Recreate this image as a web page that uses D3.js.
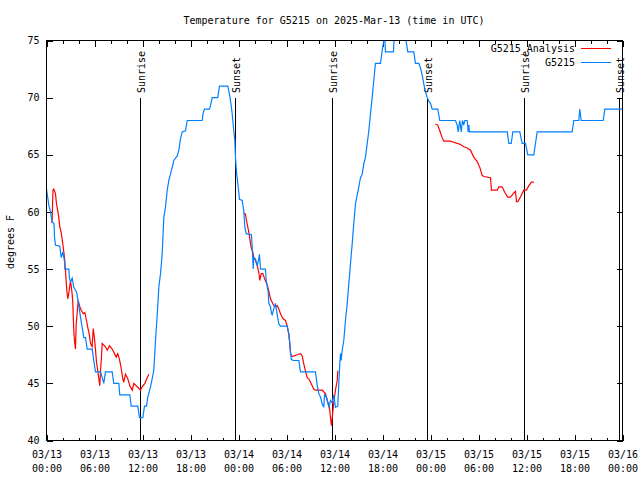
<!DOCTYPE html>
<html><head><meta charset="utf-8">
<script src="https://cdn.jsdelivr.net/npm/d3@7"></script>
<style>
body{margin:0;background:#fff}
text{font-family:"DejaVu Sans Mono",monospace;font-size:10px;fill:#000}
</style>
</head><body>
<svg id="c" width="640" height="480"></svg>
<script>
// ---------- DATA ----------
const titleText = "Temperature for G5215 on 2025-Mar-13 (time in UTC)";
const yLabelText = "degrees F";
const startUTC = Date.UTC(2025, 2, 13, 0, 0);
const spanHours = 72;
const yTickValues = [40, 45, 50, 55, 60, 65, 70, 75];
const seriesNames = ["G5215_Analysis", "G5215"];
const seriesColors = ["#ff0000", "#0080ff"];

// observed (hours since 03/13 00:00 UTC, deg F)
const obsHours = [0,0.29,0.5,0.71,0.94,1.0,1.12,1.66,1.75,1.84,2.04,2.25,2.31,2.79,2.87,3.0,3.21,3.41,3.75,3.91,4.04,4.25,4.46,4.66,4.87,5.09,5.71,5.91,6.12,6.75,6.96,7.16,7.37,8.21,8.41,9.04,9.16,10.41,10.59,11.41,11.62,12.04,12.25,12.5,12.66,13,13.41,13.62,13.84,14.04,14.25,14.46,14.66,14.87,15.09,15.29,15.5,15.71,15.91,16.34,16.54,16.75,16.96,17.37,17.59,19.46,19.59,19.75,20.37,20.5,20.71,21.41,21.62,22.66,22.87,23.09,23.21,23.41,23.54,23.62,23.75,23.91,24.04,24.12,24.46,24.66,24.79,24.96,25.62,25.71,25.84,25.91,26.12,26.34,26.54,26.62,26.75,27.37,27.46,27.71,27.79,28,28.12,28.21,28.41,28.62,28.84,29.04,29.25,30.09,30.29,30.41,30.59,30.84,31.54,31.75,33.62,33.84,34.04,34.25,34.46,34.66,34.75,35,35.29,35.5,35.71,35.91,36.12,36.41,36.54,36.66,36.75,36.84,36.96,37.16,37.37,37.59,37.79,38,38.21,38.41,38.62,39.04,39.25,39.46,39.66,39.87,40.09,40.29,40.5,40.71,40.91,41.12,41.75,41.96,42.16,42.25,42.37,43.37,43.5,43.69,43.81,44,44.12,44.75,44.94,45.16,45.91,46.12,46.54,46.75,46.96,47.16,47.37,47.59,47.79,48,48.21,48.91,49.16,51.12,51.34,51.46,51.66,51.84,52,52.15,52.29,52.59,52.71,52.79,52.87,57.59,57.79,58.09,58.29,59.16,59.46,59.87,60.16,60.91,61.12,61.34,65.71,65.91,66.54,66.66,66.84,69.59,69.79,71.96];
const obsTemps = [62,60.6,60,59.1,59,57.8,57.1,57,56.5,56,56.5,55.7,55,55,54.2,53.9,54.2,53.4,53,52.4,51.8,50.8,49.9,49,49,48,48,47,46,46,45.5,45,46,46,45,45,44,44,43,43,42,42,43,43,43.8,44.7,46.1,48.7,51,53.4,54.6,56.3,59.5,60.4,61.9,62.75,63.3,63.9,64.5,64.9,65.4,66.4,67,67.1,68,68,68.7,69,69,69.3,70,70,71,71,70.3,69.3,68.6,67.1,66.25,64.8,63.5,62.5,61.7,61.1,61,60.1,58.7,58.1,58,56.9,55,56,55.9,55.3,55.9,56.3,55,55,54,53,52,51.7,51.1,51,51.5,52,51,50.2,50,50,49.3,48.5,47.1,47,47,46,46,44.8,44.1,43.8,43.2,42.9,44,43.8,42.9,43.5,43.3,44,42.9,43,45,46.7,47.6,47,47.9,48.75,50.5,52,53.7,55.5,57.2,59,60.7,62.2,63,63.3,64.2,64.8,66,67.1,68.6,70,71.5,73,73,74.1,75,76,74,74,76,75,76,75,76,76,75,74,74,73,73,72.6,72,71.2,70.5,70,69.7,69.5,69,69,68,68,67.6,67,68,67,68,67.6,68,68,67,67.6,67,67,66,66,67,67,66,66,65,65,66,67,67,68,68,69,68,68,69,69];

// analysis (null = gap)
const anaHours = [0.69,0.81,0.91,1.12,1.25,1.41,1.54,1.66,1.84,1.96,2.09,2.25,2.37,2.5,2.59,2.66,2.81,3.0,3.21,3.29,3.41,3.5,3.62,3.71,3.84,3.96,4.16,4.34,4.59,4.79,5.0,5.16,5.37,5.5,5.71,5.84,6.0,6.12,6.25,6.41,6.54,6.66,6.75,6.87,6.96,7.37,7.59,7.87,8.21,8.5,8.71,8.91,9.12,9.34,9.54,9.66,9.87,10.16,10.41,10.71,10.91,11.34,11.75,11.96,12.29,12.59,12.79,
  18,
  24.66,24.87,25,25.16,25.37,25.5,25.62,25.79,25.91,26.12,26.34,26.54,26.66,26.84,27.04,27.29,27.59,27.79,28,28.21,28.41,28.62,28.84,29.04,29.25,29.46,29.66,29.87,30.09,30.29,30.41,30.5,30.71,31.34,31.75,31.96,32.16,32.37,32.59,32.79,33,33.41,33.62,34.46,34.87,35.09,35.29,35.41,35.5,35.62,35.71,35.84,36,36.12,36.34,36.41,
  42,
  48.62,48.91,49.16,49.46,49.66,50.5,50.91,51.34,51.75,52.16,52.59,53,53.41,53.84,54.16,54.46,54.66,55.5,55.62,56.34,56.54,56.96,57.29,57.66,58,58.34,58.62,58.75,58.91,59.25,59.66,60,60.29,60.62,60.91];
const anaTemps = [59,61.9,62,61.6,60.7,60.1,59.5,58.7,58.2,57.6,56.9,56,54.9,53.5,52.8,52.4,53,54,52.8,52,49.6,48.75,48,50.2,51.2,52.25,51.7,51.4,51.1,51.2,50.5,49.9,49.2,48.5,48.2,49.8,48.9,48,46.85,46.1,45.4,44.8,46.1,47.3,48.5,48.2,47.9,48.3,48,47.6,47.3,47.6,47.1,46.3,45.4,45.1,45.8,45.4,44.8,44.4,45,44.7,44.4,44.7,45,45.5,45.8,
  null,
  59.9,59.8,59.25,58.7,57.9,57.2,56.8,56.5,56,55.75,55.3,54.7,54,54.6,54.6,54.1,53.6,53.1,52.4,52.1,51.8,51.7,51.8,51.5,51.1,50.8,50.6,50.5,50,49.3,48.5,47.6,47.35,47.5,47.6,47.4,46.7,46.1,45.5,45.4,45.1,44.5,44.4,44.4,44.1,43.5,43.1,42.6,42,41.3,41.9,42.9,43.8,44.4,45.25,46.1,
  null,
  67.7,67.6,67.1,66.5,66.2,66.2,66.1,66,65.9,65.7,65.6,65.4,64.8,64.4,63.9,63.2,63.1,63,61.9,61.9,62.2,62.2,61.7,61.3,61.3,61.6,61.8,60.9,60.9,61.3,61.9,61.9,62.3,62.6,62.6];

// sun events (hours since start)
const sunHours = [11.72, 23.6, 35.72, 47.6, 59.65, 71.55];
const sunLabels = ["Sunrise", "Sunset", "Sunrise", "Sunset", "Sunrise", "Sunset"];

// ---------- DRAW ----------
const L = 46.5, R = 622.5, T = 40.5, B = 440.5;
const hr = 3600 * 1000;
const toDate = h => new Date(startUTC + h * hr);
const svg = d3.select("#c");
svg.append("rect").attr("width", 640).attr("height", 480).attr("fill", "#fff");

const x = d3.scaleUtc().domain([toDate(0), toDate(spanHours)]).range([L, R]);
const y = d3.scaleLinear().domain([40, 75]).range([B, T]);

svg.append("defs").append("clipPath").attr("id", "clip")
  .append("rect").attr("x", L).attr("y", T).attr("width", R - L).attr("height", B - T);

// title
svg.append("text").attr("x", 334).attr("y", 24).attr("text-anchor", "middle").text(titleText);
// y label
svg.append("text").attr("transform", "translate(13.5,242) rotate(-90)").attr("text-anchor", "middle").text(yLabelText);

const fmtD = d3.utcFormat("%m/%d"), fmtT = d3.utcFormat("%H:%M");

function styleAxis(g) {
  g.select(".domain").remove();
  g.selectAll("line").attr("stroke", "#000").attr("shape-rendering", "crispEdges");
}
// bottom major
const gxb = svg.append("g").attr("transform", `translate(0,${B})`)
  .call(d3.axisBottom(x).ticks(d3.utcHour.every(6)).tickSize(-6).tickSizeOuter(0));
styleAxis(gxb);
gxb.selectAll("text").each(function(d) {
  const t = d3.select(this);
  t.text(null).attr("y", 0).attr("dy", null).attr("fill", "#000")
   .style("font-family", '"DejaVu Sans Mono",monospace').style("font-size", "10px");
  t.append("tspan").attr("x", 0).attr("y", 17.5).text(fmtD(d));
  t.append("tspan").attr("x", 0).attr("y", 31.5).text(fmtT(d));
});
// bottom minor
styleAxis(svg.append("g").attr("transform", `translate(0,${B})`)
  .call(d3.axisBottom(x).ticks(d3.utcHour.every(2)).tickSize(-3).tickSizeOuter(0).tickFormat("")));
// top
styleAxis(svg.append("g").attr("transform", `translate(0,${T})`)
  .call(d3.axisTop(x).ticks(d3.utcHour.every(6)).tickSize(-6).tickSizeOuter(0).tickFormat("")));
styleAxis(svg.append("g").attr("transform", `translate(0,${T})`)
  .call(d3.axisTop(x).ticks(d3.utcHour.every(2)).tickSize(-3).tickSizeOuter(0).tickFormat("")));
// left
const gyl = svg.append("g").attr("transform", `translate(${L},0)`)
  .call(d3.axisLeft(y).tickValues(yTickValues).tickSize(-6).tickSizeOuter(0).tickPadding(7));
styleAxis(gyl);
gyl.selectAll("text").attr("fill", "#000").style("font-family", '"DejaVu Sans Mono",monospace').style("font-size", "10px");
// right
styleAxis(svg.append("g").attr("transform", `translate(${R},0)`)
  .call(d3.axisRight(y).tickValues(yTickValues).tickSize(-6).tickSizeOuter(0).tickFormat("")));

// sun lines
const sg = svg.append("g");
sunHours.forEach((h, i) => {
  const sx = Math.round(x(toDate(h))) + 0.5;
  sg.append("line").attr("x1", sx).attr("x2", sx).attr("y1", 98).attr("y2", B)
    .attr("stroke", "#000").attr("stroke-width", 1).attr("shape-rendering", "crispEdges");
  sg.append("text").attr("transform", `translate(${sx + 4},93) rotate(-90)`).text(sunLabels[i]);
});

// series
const obs = obsHours.map((h, i) => ({t: toDate(h), v: obsTemps[i]}));
const ana = anaHours.map((h, i) => ({t: toDate(h), v: anaTemps[i]}));
const line = d3.line().defined(d => d.v != null).x(d => x(d.t)).y(d => y(d.v));
const plot = svg.append("g").attr("clip-path", "url(#clip)");
plot.append("path").datum(ana).attr("d", line).attr("fill", "none").attr("stroke", seriesColors[0]).attr("stroke-width", 1.2);
plot.append("path").datum(obs).attr("d", line).attr("fill", "none").attr("stroke", seriesColors[1]).attr("stroke-width", 1.2);

// border
svg.append("rect").attr("x", L).attr("y", T).attr("width", R - L).attr("height", B - T)
  .attr("fill", "none").attr("stroke", "#000").attr("shape-rendering", "crispEdges");

// legend
const lg = svg.append("g");
seriesNames.forEach((n, i) => {
  const ly = 48 + i * 14;
  lg.append("text").attr("x", 575).attr("y", ly + 4).attr("text-anchor", "end").text(n);
  lg.append("line").attr("x1", 581).attr("x2", 611).attr("y1", ly + 0.5).attr("y2", ly + 0.5)
    .attr("stroke", seriesColors[i]).attr("stroke-width", 1).attr("shape-rendering", "crispEdges");
});
</script>
</body></html>
